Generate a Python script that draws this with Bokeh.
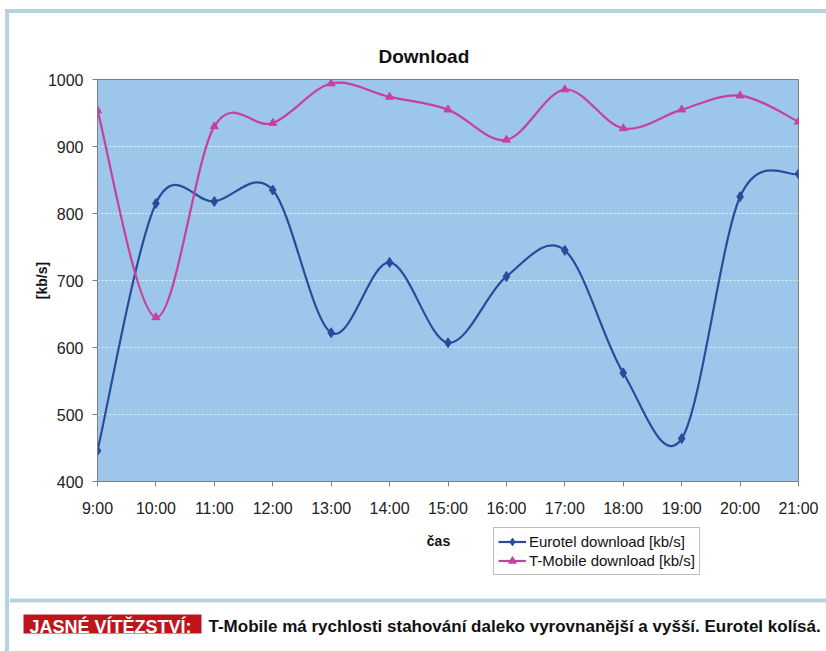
from bokeh.plotting import figure
from bokeh.models import (FixedTicker, Legend, LegendItem, Range1d, Spacer)
from bokeh.layouts import column, row
from bokeh.embed import file_html
from bokeh.resources import INLINE
from bokeh.core.properties import value

# ---- data ----
hours = ["9:00", "10:00", "11:00", "12:00", "13:00", "14:00", "15:00",
         "16:00", "17:00", "18:00", "19:00", "20:00", "21:00"]
eurotel = [446, 815, 818, 835, 622, 727, 607, 706, 745, 562, 464, 825, 859]
tmobile = [954, 645, 930, 935, 994, 974, 955, 910, 985, 927, 955, 976, 937]
y_ticks = [400, 500, 600, 700, 800, 900, 1000]

chart_title = "Download"
y_label = "[kb/s]"
x_label = "čas"
names = ["Eurotel download [kb/s]", "T-Mobile download [kb/s]"]
caption_tag = "JASNÉ VÍTĚZSTVÍ:"
caption_text = "T-Mobile má rychlosti stahování daleko vyrovnanější a vyšší. Eurotel kolísá."

FONT = "Liberation Sans"
BLUE = "#2c4a9c"
MAGENTA = "#c8409e"
FRAME = "#b8d3e0"
series = [(eurotel, BLUE, "diamond", 10, names[0]),
          (tmobile, MAGENTA, "triangle", 8, names[1])]

# ---------------- main chart ----------------
CW, CH = 817, 507
p = figure(width=CW, height=CH, output_backend="svg", toolbar_location=None,
           x_range=Range1d(0, len(hours) - 1), y_range=Range1d(400, 1000),
           min_border_left=88, min_border_right=28, min_border_top=66,
           min_border_bottom=39, title=chart_title)
p.background_fill_color = "#9cc6ea"
p.border_fill_color = "white"
p.outline_line_color = "#7f7f7f"

p.title.align = "left"
p.title.offset = 281
p.title.text_font = FONT
p.title.text_font_size = "19px"
p.title.text_font_style = "bold"
p.title.text_color = "#111111"
p.title.standoff = 25

p.xgrid.visible = False
p.ygrid.grid_line_color = "white"
p.ygrid.grid_line_dash = "2 2"
p.ygrid.grid_line_alpha = 0.75
p.ygrid.ticker = FixedTicker(ticks=y_ticks)

xa = p.xaxis[0]
xa.ticker = FixedTicker(ticks=list(range(len(hours))))
xa.major_label_overrides = {i: h for i, h in enumerate(hours)}
ya = p.yaxis[0]
ya.ticker = FixedTicker(ticks=y_ticks)
for ax in (xa, ya):
    ax.axis_line_color = "#7f7f7f"
    ax.major_tick_line_color = "#7f7f7f"
    ax.major_tick_out = 5
    ax.major_tick_in = 0
    ax.minor_tick_line_color = None
    ax.major_label_text_font = FONT
    ax.major_label_text_font_size = "16px"
    ax.major_label_text_color = "#222222"
    ax.axis_label_text_font = FONT
    ax.axis_label_text_font_size = "14px"
    ax.axis_label_text_font_style = "bold"
    ax.axis_label_text_color = "#111111"
xa.major_label_standoff = 13
ya.axis_label = y_label
ya.major_label_standoff = 9
ya.axis_label_standoff = -5


def smooth(xs, ys):
    """Bezier control points for a smoothed line through the data points."""
    px = [xs[0]] + list(xs) + [xs[-1]]
    py = [ys[0]] + list(ys) + [ys[-1]]
    seg = dict(x0=[], y0=[], x1=[], y1=[], cx0=[], cy0=[], cx1=[], cy1=[])
    for i in range(len(xs) - 1):
        a, b, c, d = i, i + 1, i + 2, i + 3
        seg["x0"].append(px[b]); seg["y0"].append(py[b])
        seg["x1"].append(px[c]); seg["y1"].append(py[c])
        seg["cx0"].append(px[b] + (px[c] - px[a]) / 6)
        seg["cy0"].append(py[b] + (py[c] - py[a]) / 6)
        seg["cx1"].append(px[c] - (px[d] - px[b]) / 6)
        seg["cy1"].append(py[c] - (py[d] - py[b]) / 6)
    return seg


xs = list(range(len(hours)))
for ys, col, marker, size, name in series:
    s = smooth(xs, ys)
    p.bezier(source=s, x0="x0", y0="y0", x1="x1", y1="y1",
             cx0="cx0", cy0="cy0", cx1="cx1", cy1="cy1",
             line_color=col, line_width=2.2)
    p.scatter(xs, ys, marker=marker, size=size, fill_color=col, line_color=col)

# ---------------- lower strip: axis title, legend, caption ----------------
LW, LH = 817, 131
q = figure(width=LW, height=LH, output_backend="svg", toolbar_location=None,
           x_range=Range1d(0, LW), y_range=Range1d(LH, 0),
           x_axis_location=None, y_axis_location=None, min_border=0)
q.grid.visible = False
q.outline_line_color = None
q.background_fill_color = "white"
q.border_fill_color = "white"

q.text(x=[429], y=[20], text=[x_label], text_font=value(FONT),
       text_font_size="14px", text_font_style="bold", text_color="#111111",
       text_align="center", text_baseline="middle")

items = []
nan = float("nan")
for ys, col, marker, size, name in series:
    r1 = q.line([nan, nan], [nan, nan], line_color=col, line_width=2.2)
    r2 = q.scatter([nan], [nan], marker=marker, size=size, fill_color=col,
                   line_color=col)
    items.append(LegendItem(label=name, renderers=[r1, r2]))
legend = Legend(items=items, location=(484, 76), orientation="vertical")
legend.border_line_color = "#7f7f7f"
legend.background_fill_color = "white"
legend.background_fill_alpha = 1
legend.label_text_font = FONT
legend.label_text_font_size = "15px"
legend.label_text_color = "#111111"
legend.glyph_width = 28
legend.glyph_height = 19
legend.label_height = 19
legend.label_standoff = 3
legend.spacing = 0
legend.padding = 4
legend.margin = 0
q.add_layout(legend)

# separator bar and caption
q.quad(left=[0], right=[LW], top=[78], bottom=[82], fill_color=FRAME,
       line_color=None)
q.quad(left=[14], right=[192], top=[94], bottom=[113], fill_color="#c0141c",
       line_color=None)
q.text(x=[20], y=[106], text=[caption_tag], text_font=value(FONT),
       text_font_size="18px", text_font_style="bold", text_color="white",
       text_align="left", text_baseline="middle")
q.text(x=[199], y=[106], text=[caption_text], text_font=value(FONT),
       text_font_size="17px", text_font_style="bold", text_color="#111111",
       text_align="left", text_baseline="middle")

# ---------------- page layout with frame bars ----------------
def bar(w, h):
    return Spacer(width=w, height=h, styles={"background-color": FRAME})


layout = column(
    Spacer(width=826, height=9),
    row(Spacer(width=5, height=4), bar(821, 4)),
    row(Spacer(width=5, height=CH), bar(4, CH), p),
    row(Spacer(width=5, height=LH), bar(4, LH), q),
)

open("out.html", "w").write(file_html(layout, INLINE))
